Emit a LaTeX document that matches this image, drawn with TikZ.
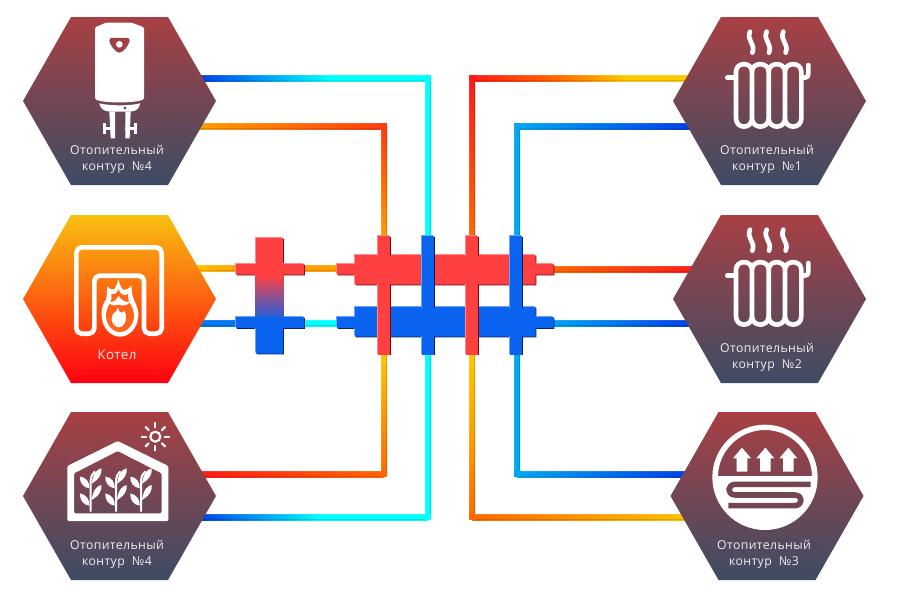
\documentclass[tikz,border=0pt]{standalone}
\usepackage{fontspec}
\setmainfont{Open Sans}
\usetikzlibrary{calc}
\definecolor{hexTop}{HTML}{A84044}
\definecolor{hexBot}{HTML}{3D4C64}
\definecolor{hexMid}{HTML}{74464F}
\definecolor{boilTop}{HTML}{F9C010}
\definecolor{boilMid}{HTML}{FF7A18}
\definecolor{boilBot}{HTML}{FF0010}
\definecolor{boilIn}{HTML}{FF6418}
\definecolor{pBlue}{HTML}{0038E8}
\definecolor{pAzure}{HTML}{0078F0}
\definecolor{pSky}{HTML}{00A8F0}
\definecolor{pCyan}{HTML}{00FFFF}
\definecolor{pRed}{HTML}{FF1A18}
\definecolor{pRedO}{HTML}{FF3C10}
\definecolor{pOrange}{HTML}{FF6800}
\definecolor{pAmber}{HTML}{FFA000}
\definecolor{pYellow}{HTML}{FFC800}
\definecolor{mRed}{HTML}{FF4040}
\definecolor{mRedL}{HTML}{FF8C8C}
\definecolor{mRedD}{HTML}{780008}
\definecolor{mBlue}{HTML}{0A64F0}
\definecolor{mBlueL}{HTML}{6CA2F8}
\definecolor{mBlueD}{HTML}{00205C}
\tikzset{
  labeltext/.style={text=white!93!black,font=\fontsize{9.2pt}{12pt}\selectfont\addfontfeatures{LetterSpace=3},align=center,inner sep=0pt},
  icon/.style={draw=white,line width=3.5pt,line join=round,line cap=round},
  thinicon/.style={draw=white,line width=1.6pt,line cap=round},
  zoomunits/.style={x=0.25pt,y=-0.25pt}
}
\newcommand\hseg[4]{%
  \shade[left color=#3,right color=#4] ($(#1)+(0,-3)$) rectangle ($(#2)+(0,3)$);
  \fill[white,opacity=.1] ($(#1)+(0,-3)$) rectangle ($(#2)+(0,-2)$);
  \fill[black,opacity=.14] ($(#1)+(0,2)$) rectangle ($(#2)+(0,3)$);}
\newcommand\vseg[4]{%
  \shade[top color=#3,bottom color=#4] ($(#1)+(-3,0)$) rectangle ($(#2)+(3,0)$);
  \fill[white,opacity=.1] ($(#1)+(-3,0)$) rectangle ($(#2)+(-2,0)$);
  \fill[black,opacity=.14] ($(#1)+(2,0)$) rectangle ($(#2)+(3,0)$);}
\newcommand\pipecorner[2]{\fill[#2] ($(#1)+(-3,-3)$) rectangle ($(#1)+(3,3)$);}
\newcommand\hexa[5]{% name, cx, cy, half width, shading options
  \coordinate (#1) at (#2,#3);
  \shade[#5] ($(#1)+(-#4,0)$) -- ($(#1)+(-48.5,-84)$) -- ($(#1)+(48.5,-84)$) -- ($(#1)+(#4,0)$) -- ($(#1)+(48.5,84)$) -- ($(#1)+(-48.5,84)$) -- cycle;}
\newcommand\bevelshape[4]{%
  \fill[#4,shift={(.8,.8)}] #1;
  \fill[#3,shift={(-.8,-.8)}] #1;
  \fill[#2] #1;}
\newcommand\radiatoricon[2]{%
  \begin{scope}[shift={(#1,#2)},zoomunits]
    \draw[icon] (240,65) .. controls (228,92) and (258,100) .. (247,128);
    \draw[icon] (290,65) .. controls (278,92) and (308,100) .. (297,128);
    \draw[icon] (340,65) .. controls (328,92) and (358,100) .. (347,128);
    \draw[icon] (198,185) .. controls (198,155) and (246,155) .. (246,185)
       .. controls (246,155) and (296,155) .. (296,185)
       .. controls (296,155) and (345,155) .. (345,185)
       .. controls (345,155) and (394,155) .. (394,185) -- (394,325)
       .. controls (394,358) and (345,358) .. (345,325) -- (345,185) -- (345,325)
       .. controls (345,358) and (296,358) .. (296,325) -- (296,185) -- (296,325)
       .. controls (296,358) and (246,358) .. (246,325) -- (246,185) -- (246,325)
       .. controls (246,358) and (198,358) .. (198,325) -- cycle;
    \draw[icon] (172,203) -- (198,203);
    \draw[icon] (394,203) -- (405,203) .. controls (413,203) and (415,198) .. (415,190) -- (415,165);
  \end{scope}}
\newcommand\leafshape[4]{\fill[white] (#1,#2) .. controls ($(#1,#2)!.5!(#3,#4)+(-10,-8)$) and ($(#1,#2)!.8!(#3,#4)+(-8,-6)$) .. (#3,#4) .. controls ($(#1,#2)!.8!(#3,#4)+(8,6)$) and ($(#1,#2)!.5!(#3,#4)+(10,8)$) .. (#1,#2);}
\newcommand\plantshape[1]{%
  \begin{scope}[shift={(#1,0)}]
    \draw[white,line width=1.5pt,line cap=round] (0,318) -- (0,225) .. controls (0,215) and (5,208) .. (12,200);
    \leafshape{3}{236}{32}{190}
    \leafshape{3}{285}{32}{240}
    \fill[white] (-4,250) .. controls (-22,248) and (-34,232) .. (-32,215) .. controls (-14,216) and (-2,232) .. (-4,250);
    \fill[white] (-4,302) .. controls (-22,300) and (-34,284) .. (-32,265) .. controls (-14,268) and (-2,284) .. (-4,302);
  \end{scope}}
\begin{document}
\begin{tikzpicture}[x=0.75pt,y=-0.75pt]
\useasboundingbox (0,0) rectangle (900,600);
\fill[white] (0,0) rectangle (900,600);
% ---- pipe way points
\coordinate (tlA) at (195,78);   \coordinate (tlM) at (330,78);   \coordinate (tlC) at (428,78);   \coordinate (tlE) at (428,238);
\coordinate (tkA) at (195,126);  \coordinate (tkC) at (384,126);  \coordinate (tkM) at (384,180);  \coordinate (tkE) at (384,238);
\coordinate (trC) at (472,78);   \coordinate (trM) at (555,78);   \coordinate (trN) at (625,78);   \coordinate (trA) at (700,78);  \coordinate (trE) at (472,238);
\coordinate (tsC) at (517,126);  \coordinate (tsA) at (700,126);  \coordinate (tsE) at (517,238);
\coordinate (blC) at (384,474);  \coordinate (blA) at (195,474);  \coordinate (blE) at (384,352);
\coordinate (bkC) at (428,517);  \coordinate (bkM) at (320,517);  \coordinate (bkA) at (195,517);  \coordinate (bkE) at (428,352);
\coordinate (brC) at (517,474);  \coordinate (brA) at (700,474);  \coordinate (brE) at (517,352);
\coordinate (bsC) at (472,517);  \coordinate (bsA) at (700,517);  \coordinate (bsM) at (472,430); \coordinate (bsE) at (472,352);
\coordinate (mlA) at (190,268);  \coordinate (mlB) at (240,268);  \coordinate (mlC) at (300,268);  \coordinate (mlD) at (340,268);
\coordinate (nlA) at (190,323);  \coordinate (nlB) at (240,323);  \coordinate (nlC) at (300,323);  \coordinate (nlD) at (340,323);
\coordinate (mrA) at (550,269);  \coordinate (mrB) at (700,269);
\coordinate (nrA) at (550,323);  \coordinate (nrB) at (700,323);
% ---- pipes
\hseg{tlA}{tlM}{pBlue}{pCyan}\hseg{tlM}{tlC}{pCyan}{pCyan}\vseg{tlC}{tlE}{pCyan}{pCyan}\pipecorner{tlC}{pCyan}
\hseg{tkA}{tkC}{pAmber}{pRedO}\vseg{tkC}{tkM}{pRedO}{pOrange}\vseg{tkM}{tkE}{pOrange}{pAmber}\pipecorner{tkC}{pRedO}
\hseg{trC}{trM}{pRed}{pOrange}\hseg{trM}{trN}{pOrange}{pYellow}\hseg{trN}{trA}{pYellow}{pYellow}\vseg{trC}{trE}{pRed}{pOrange}\pipecorner{trC}{pRed}
\hseg{tsC}{tsA}{pSky}{pBlue}\vseg{tsC}{tsE}{pSky}{pSky}\pipecorner{tsC}{pSky}
\hseg{blA}{blC}{pRed}{pOrange}\vseg{blE}{blC}{pYellow}{pOrange}\pipecorner{blC}{pOrange}
\hseg{bkA}{bkM}{pBlue}{pCyan}\hseg{bkM}{bkC}{pCyan}{pCyan}\vseg{bkE}{bkC}{pCyan}{pCyan}\pipecorner{bkC}{pCyan}
\hseg{brC}{brA}{pSky}{pBlue}\vseg{brE}{brC}{pSky}{pSky}\pipecorner{brC}{pSky}
\hseg{bsC}{bsA}{pOrange}{pYellow}\vseg{bsE}{bsM}{pYellow}{pAmber}\vseg{bsM}{bsC}{pAmber}{pOrange}\pipecorner{bsC}{pOrange}
\hseg{mlA}{mlB}{pYellow}{pAmber}\hseg{mlC}{mlD}{pAmber}{pAmber}
\hseg{nlA}{nlB}{pAzure}{pAzure}\hseg{nlC}{nlD}{pCyan}{pCyan}
\hseg{mrA}{mrB}{pOrange}{pRed}
\hseg{nrA}{nrB}{pSky}{pBlue}
% ---- small cross manifold
\bevelshape{(256,238) -- (283,238) -- (283,264) -- (304,264) -- (304,274.5) -- (283,274.5) -- (283,290) -- (256,290) -- (256,274.5) -- (236,274.5) -- (236,264) -- (256,264) -- cycle}{mRed}{mRedL}{mRedD}
\bevelshape{(256,300) -- (283,300) -- (283,317) -- (304,317) -- (304,328) -- (283,328) -- (283,353.5) -- (256,353.5) -- (256,328) -- (236,328) -- (236,317) -- (256,317) -- cycle}{mBlue}{mBlueL}{mBlueD}
\shade[top color=mRed,bottom color=mBlue!85!mRed,middle color=mRed!55!mBlue] (255.2,275.3) rectangle (283.8,316.5);
% ---- main manifold
\bevelshape{(337,264) -- (355,264) -- (355,255) -- (535.5,255) -- (535.5,264) -- (553.5,264) -- (553.5,274.5) -- (535.5,274.5) -- (535.5,284.5) -- (355,284.5) -- (355,274.5) -- (337,274.5) -- cycle}{mRed}{mRedL}{mRedD}
\bevelshape{(337,317) -- (355,317) -- (355,307) -- (535.5,307) -- (535.5,317) -- (553.5,317) -- (553.5,328) -- (535.5,328) -- (535.5,336.5) -- (355,336.5) -- (355,328) -- (337,328) -- cycle}{mBlue}{mBlueL}{mBlueD}
\bevelshape{(422,236) rectangle (434,354.5)}{mBlue}{mBlueL}{mBlueD}
\bevelshape{(510,236) rectangle (522,354.5)}{mBlue}{mBlueL}{mBlueD}
\bevelshape{(378,236) rectangle (390,354.5)}{mRed}{mRedL}{mRedD}
\bevelshape{(466,236) rectangle (478,354.5)}{mRed}{mRedL}{mRedD}
\fill[mRed] (377.2,256) rectangle (390.8,284.4);
\fill[mRed] (465.2,256) rectangle (478.8,284.4);
\fill[mBlue] (421.2,308) rectangle (434.8,336.4);
\fill[mBlue] (509.2,308) rectangle (522.8,336.4);
% ---- hexagons
\hexa{hA}{119.5}{101}{96.5}{top color=hexTop,bottom color=hexBot}
\hexa{hB}{119.5}{299}{96.5}{top color=boilTop,middle color=boilMid,bottom color=boilBot}
\hexa{hC}{119.5}{496}{96.5}{top color=hexTop,bottom color=hexBot}
\hexa{hD}{769.5}{101}{96.5}{top color=hexTop,bottom color=hexBot}
\hexa{hE}{769.5}{299}{96.5}{top color=hexTop,bottom color=hexBot}
\hexa{hF}{767}{496}{96.5}{top color=hexTop,bottom color=hexBot}
% ---- water heater icon
\begin{scope}[shift={(20,10)},zoomunits]
  \fill[white,rounded corners=1pt] (258,38) -- (335,38) -- (372,52) -- (372,268) .. controls (340,280) and (255,280) .. (225,268) -- (225,52) -- cycle;
  \fill[white] (238,280) .. controls (270,288) and (330,288) .. (360,280) .. controls (360,292) and (350,305) .. (330,305) -- (270,305) .. controls (250,305) and (240,292) .. (238,280) -- cycle;
  \fill[white] (268,305) -- (285,305) -- (285,385) -- (272,385) -- cycle;
  \fill[white] (316,305) -- (332,305) -- (329,385) -- (316,385) -- cycle;
  \fill[white] (255,350) rectangle (285,360);
  \fill[white] (248,340) rectangle (258,372);
  \fill[white] (315,350) rectangle (345,360);
  \fill[white] (342,340) rectangle (352,372);
  \fill[hexTop!90!hexBot] (268,92) .. controls (268,80) and (280,84) .. (298,84) .. controls (316,84) and (330,80) .. (329,92) .. controls (327,105) and (310,128) .. (298,128) .. controls (286,128) and (270,105) .. (268,92) -- cycle;
  \fill[white] (298,103) circle [radius=10];
  \fill[hexMid] (315,294) circle [radius=5];
\end{scope}
% ---- boiler icon
\begin{scope}[shift={(20,210)},zoomunits]
  \draw[icon,rounded corners=4pt] (223,371) -- (169,371) -- (169,112) -- (425,112) -- (425,371) -- (372,371) -- (372,197) -- (223,197) -- cycle;
  \fill[white] (295,208) .. controls (300,225) and (305,238) .. (311,240) .. controls (320,240) and (328,235) .. (334,226)
     .. controls (336,245) and (336,255) .. (342,270) .. controls (352,288) and (356,305) .. (355,320)
     .. controls (352,355) and (328,380) .. (300,380) .. controls (272,380) and (248,355) .. (245,320)
     .. controls (244,300) and (246,285) .. (258,268) .. controls (262,255) and (260,242) .. (262,228)
     .. controls (268,238) and (276,240) .. (282,238) .. controls (288,232) and (292,220) .. (295,208) -- cycle;
  \fill[boilIn] (296,238) .. controls (300,250) and (306,256) .. (314,256) .. controls (318,256) and (322,254) .. (325,250)
     .. controls (322,262) and (325,270) .. (330,280) .. controls (336,290) and (343,305) .. (342,320)
     .. controls (340,345) and (322,366) .. (300,366) .. controls (278,366) and (260,345) .. (258,320)
     .. controls (257,305) and (263,292) .. (270,280) .. controls (275,270) and (276,262) .. (274,252)
     .. controls (280,256) and (288,254) .. (296,238) -- cycle;
  \fill[white] (262,272) .. controls (280,282) and (288,270) .. (296,258) .. controls (304,270) and (318,282) .. (332,272) .. controls (326,285) and (312,290) .. (296,284) .. controls (282,290) and (268,285) .. (262,272) -- cycle;
  \fill[white] (294,292) .. controls (296,302) and (300,310) .. (306,308) .. controls (310,306) and (312,304) .. (312,302)
     .. controls (318,312) and (320,322) .. (317,332) .. controls (313,345) and (305,352) .. (297,352)
     .. controls (287,352) and (277,342) .. (275,330) .. controls (274,320) and (278,312) .. (282,308)
     .. controls (285,310) and (290,302) .. (294,292) -- cycle;
\end{scope}
% ---- greenhouse icon
\begin{scope}[shift={(20,405)},zoomunits]
  \fill[white,even odd rule,rounded corners=1pt] (142,183) -- (293,108) -- (445,183) -- (445,348) -- (142,348) -- cycle
     (162,205) -- (293,138) -- (425,205) -- (425,325) -- (162,325) -- cycle;
  \plantshape{212}\plantshape{288}\plantshape{363}
  \draw[thinicon] (406,95) circle [radius=15];
  \foreach \a in {0,45,...,315}{\draw[thinicon] ($(406,95)+(\a:28)$) -- ($(406,95)+(\a:41)$);}
\end{scope}
% ---- radiators
\radiatoricon{670}{10}
\radiatoricon{670}{208}
% ---- floor heating icon
\begin{scope}[shift={(665,405)},zoomunits]
  \fill[white,even odd rule] (300,217) circle [radius=158]
    (159,213) .. controls (160,139) and (222,75) .. (300,75) .. controls (378,75) and (440,139) .. (441,213) -- cycle;
  \foreach \c in {231,301,370}{\fill[white] (\c,128) -- (\c+27,160) -- (\c+16,160) -- (\c+16,200) -- (\c-16,200) -- (\c-16,160) -- (\c-27,160) -- cycle;}
  \draw[hexMid,line width=4.2pt,line join=round] (437,238) -- (212,238) .. controls (185,238) and (185,270) .. (212,270) -- (388,270) .. controls (415,270) and (415,302) .. (388,302) -- (190,302);
\end{scope}
% ---- labels
\node[labeltext] (lA) at (117,159) {Отопительный\\контур\ \ №4};
\node[labeltext,font=\fontsize{10pt}{12pt}\selectfont\addfontfeatures{LetterSpace=3}] (lB) at (117,355) {Котел};
\node[labeltext] (lC) at (117,554) {Отопительный\\контур\ \ №4};
\node[labeltext] (lD) at (767,159) {Отопительный\\контур\ \ №1};
\node[labeltext] (lE) at (767,357) {Отопительный\\контур\ \ №2};
\node[labeltext] (lF) at (764,554) {Отопительный\\контур\ \ №3};
\end{tikzpicture}
\end{document}
